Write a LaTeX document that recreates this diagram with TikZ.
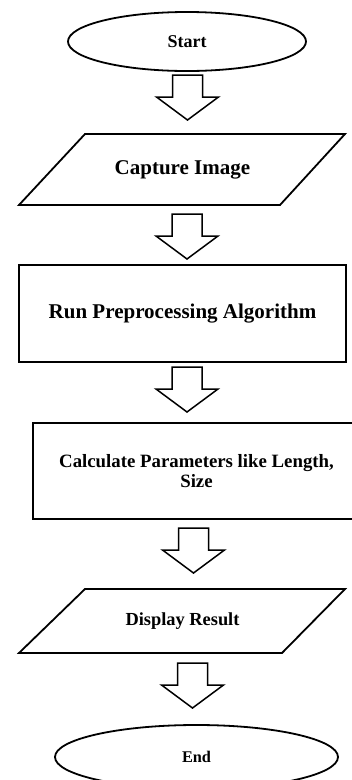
\documentclass[tikz,border=0pt]{standalone}
\usepackage{fontspec}
\setmainfont{Liberation Serif}
\usetikzlibrary{shapes.geometric}

\tikzset{
  box/.style={draw, line width=1.8pt, rectangle, inner sep=0pt},
  term/.style={draw, line width=1.8pt, ellipse, inner sep=0pt},
  label/.style={inner sep=0pt, align=center, font=\bfseries},
  para/.style={line width=1.8pt, line join=miter},
  downarrow/.pic={
    \draw[line width=1.5pt, line join=miter, fill=white]
      (-15,0) -- (15,0) -- (15,22) -- (31,22) -- (0,45)
      -- (-31,22) -- (-15,22) -- cycle;
  }
}

\begin{document}
\begin{tikzpicture}[x=1pt, y=-1pt]
  \useasboundingbox (0,0) rectangle (352,780);
  \clip (0,0) rectangle (352,780);

  % start terminal
  \node[term, minimum width=238pt, minimum height=59pt,
        font=\fontsize{18}{20}\selectfont\bfseries] (start) at (187,41.5) {Start};

  \pic at (187.5,75) {downarrow};

  % input: capture image
  \draw[para] (85,134) -- (345,134) -- (280,205) -- (19,205) -- cycle;
  \node[label, font=\fontsize{21}{24}\selectfont\bfseries] (capture) at (182.5,170) {Capture Image};

  \pic at (187,214) {downarrow};

  % preprocessing step
  \node[box, minimum width=327pt, minimum height=97pt,
        font=\fontsize{21}{24}\selectfont\bfseries] (prep) at (182.5,313.5) {Run Preprocessing Algorithm};

  \pic at (187,367) {downarrow};

  % parameter calculation step
  \node[box, minimum width=327pt, minimum height=96pt, align=center,
        font=\fontsize{18.8}{20.5}\selectfont\bfseries] (calc) at (196.5,471)
        {Calculate Parameters like Length,\\Size};

  \pic at (193.5,528) {downarrow};

  % output: display result
  \draw[para] (85,589) -- (345,589) -- (282,653) -- (19,653) -- cycle;
  \node[label, font=\fontsize{18.4}{20}\selectfont\bfseries] (display) at (182.5,621) {Display Result};

  \pic at (192.5,663) {downarrow};

  % end terminal
  \node[term, minimum width=283pt, minimum height=64pt,
        font=\fontsize{16.3}{18}\selectfont\bfseries] (end) at (196.5,757) {End};
\end{tikzpicture}
\end{document}
